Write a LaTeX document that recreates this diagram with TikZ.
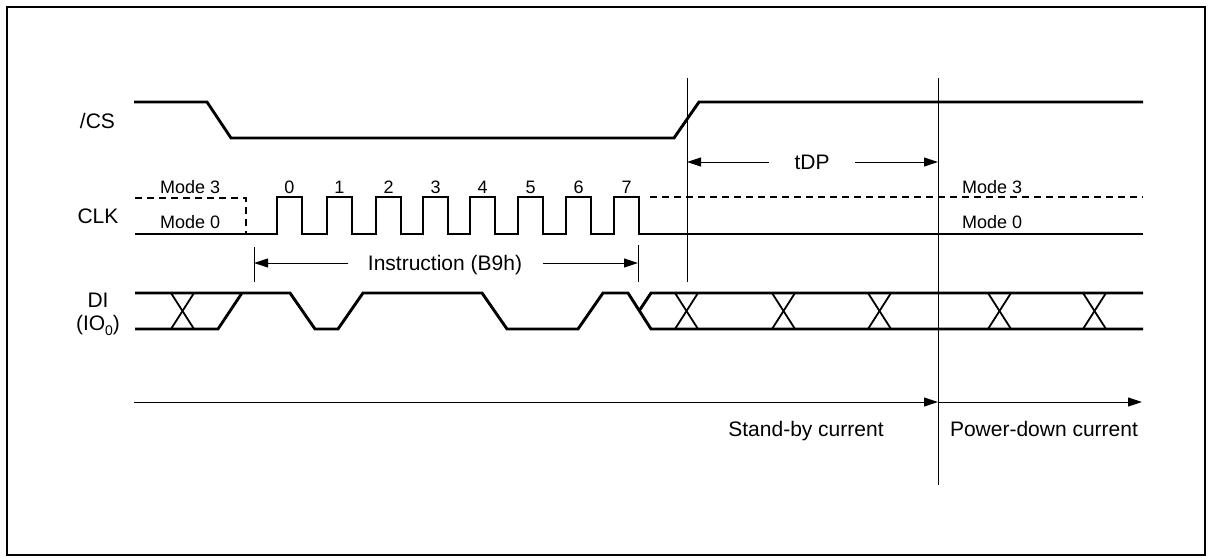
\documentclass[tikz,border=0pt]{standalone}
\usepackage{fontspec}
\setmainfont{Liberation Sans}
\usetikzlibrary{arrows.meta}
\tikzset{
  sig/.style={line width=2.9pt},
  dsig/.style={line width=2.9pt, dash pattern=on 7pt off 5pt},
  xing/.style={line width=1.8pt},
  thinline/.style={line width=1pt},
  arr/.style={thinline, -{Triangle[length=14pt,width=9pt]}},
  lab/.style={inner sep=0pt, font=\fontsize{21}{25}\selectfont},
  modelab/.style={inner sep=0pt, font=\fontsize{18}{22}\selectfont},
}
\begin{document}
\begin{tikzpicture}[x=1pt,y=-1pt]
\useasboundingbox (0,0) rectangle (1212,557);
% frame
\draw[line width=2.5pt] (7,7) rectangle (1205,555);

% signal labels
\node[lab, anchor=base] (cs) at (97.5,128.5) {/CS};
\node[lab, anchor=base] (clk) at (98,223) {CLK};
\node[lab, anchor=base] (di) at (98,307) {DI};
\node[lab, anchor=base] (io) at (98,330.5) {(IO\raisebox{-5pt}{\fontsize{14}{14}\selectfont 0})};

% /CS
\draw[sig] (134,102) -- (207,102) -- (231,138) -- (674,138) -- (699,102) -- (1143,102);

% CLK
\draw[dsig] (135,198) -- (246,198) -- (246,234);
\draw[sig] (135,234)
  \foreach \r in {277,327,376,423,470,518,566,614} {
    -- (\r,234) -- (\r,197) -- ({\r+25},197) -- ({\r+25},234)
  } -- (1143,234);
\draw[dsig] (650,197) -- (1143,197);
\node[modelab, anchor=base west] (m3l) at (160,193) {Mode 3};
\node[modelab, anchor=base west] (m0l) at (160,228) {Mode 0};
\node[modelab, anchor=base west] (m3r) at (962,193) {Mode 3};
\node[modelab, anchor=base west] (m0r) at (962,228) {Mode 0};
\foreach \r [count=\i from 0] in {277,327,376,423,470,518,566,614} {
  \node[modelab, anchor=base] (n\i) at ({\r+12.5},193) {\i};
}

% DI
\draw[sig] (135,293) -- (290,293) -- (315,329) -- (338,329) -- (363,293) -- (482,293)
  -- (507,329) -- (578,329) -- (603,293) -- (628,293) -- (651,329) -- (1143,329);
\draw[sig] (135,329) -- (218,329) -- (242,293);
\draw[sig] (639,311) -- (651,293) -- (1143,293);
\foreach \a in {171,675,772,868,988,1083} {
  \draw[xing] (\a,293) -- ({\a+23},329);
  \draw[xing] (\a,329) -- ({\a+23},293);
}

% vertical markers
\coordinate (v1t) at (687,78);
\coordinate (v1b) at (687,282);
\coordinate (v2t) at (938,78);
\coordinate (v2b) at (938,485);
\coordinate (t1t) at (254,247);
\coordinate (t1b) at (254,282);
\coordinate (t2t) at (638,245);
\coordinate (t2b) at (638,282);
\draw[thinline] (v1t) -- (v1b);
\draw[thinline] (v2t) -- (v2b);
\draw[thinline] (t1t) -- (t1b);
\draw[thinline] (t2t) -- (t2b);

% tDP
\node[lab, anchor=base] (tdp) at (812,169.5) {tDP};
\coordinate (tdpL) at (769,162);
\coordinate (tdpLe) at (687,162);
\coordinate (tdpR) at (855,162);
\coordinate (tdpRe) at (938,162);
\draw[arr] (tdpL) -- (tdpLe);
\draw[arr] (tdpR) -- (tdpRe);

% Instruction
\node[lab, anchor=base] (ins) at (445,270.5) {Instruction (B9h)};
\coordinate (insL) at (348,263);
\coordinate (insLe) at (254,263);
\coordinate (insR) at (543,263);
\coordinate (insRe) at (638,263);
\draw[arr] (insL) -- (insLe);
\draw[arr] (insR) -- (insRe);

% current
\coordinate (c0) at (134,402);
\coordinate (c1) at (938,402);
\coordinate (c2) at (1142,402);
\draw[arr] (c0) -- (c1);
\draw[arr] (c1) -- (c2);
\node[lab, anchor=base] (sb) at (806,436) {Stand-by current};
\node[lab, anchor=base] (pd) at (1044,436) {Power-down current};
\end{tikzpicture}
\end{document}
